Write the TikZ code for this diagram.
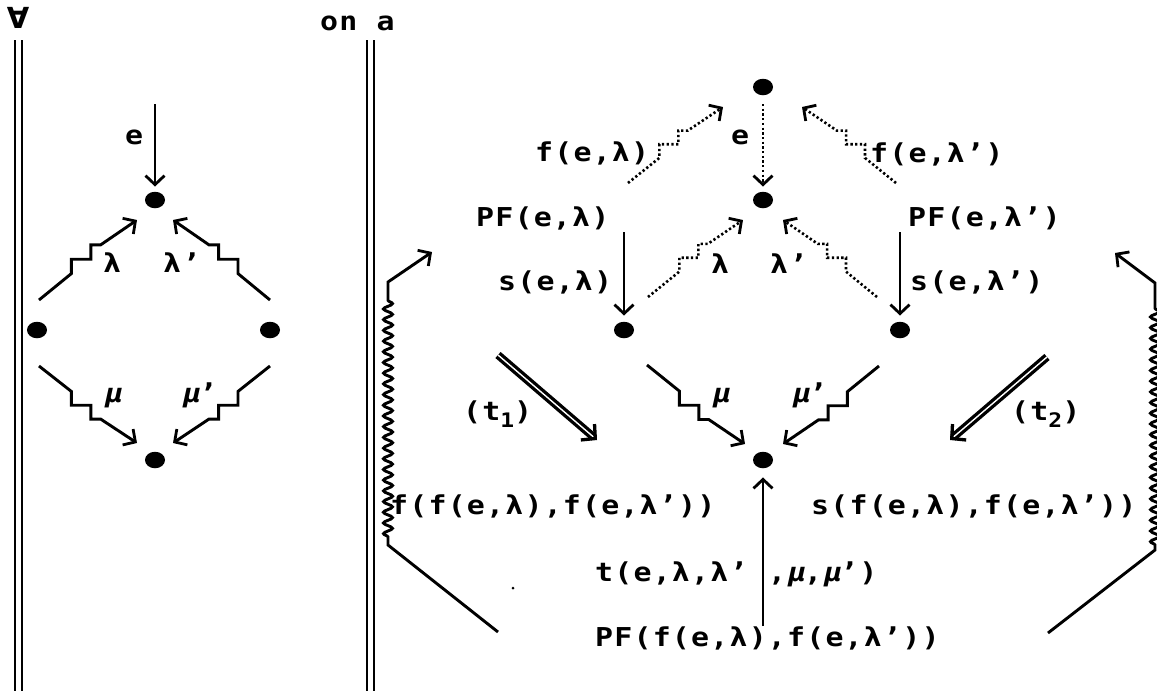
\documentclass[tikz,border=0pt]{standalone}
\usepackage{fontspec}
\usetikzlibrary{arrows.meta,calc,decorations.pathmorphing,shapes.geometric}
\newfontfamily\lblfont[LetterSpace=4.6,FakeStretch=1.15]{DejaVu Sans Mono}
\newfontfamily\slfont[LetterSpace=4.6,FakeStretch=1.15,FakeSlant=0.22]{DejaVu Sans Mono}
\newfontfamily\symfont{DejaVu Sans}
\newcommand\gm{{\slfont μ}}

\tikzset{
  lbl/.style={inner sep=0pt, anchor=base west,
    font=\lblfont\bfseries\fontsize{26}{30}\selectfont},
  blob/.style={ellipse, fill=black, inner sep=0pt,
    minimum width=20pt, minimum height=16.5pt},
  hd/.style={-{Straight Barb[length=9pt,width=19pt,line width=2.8pt]}},
  arr/.style={line width=2.9pt, hd},
  dotline/.style={line width=2.6pt, dash pattern=on 2.3pt off 2.4pt, hd},
  stair/.style={to path={let \p1=(\tikztostart), \p2=(\tikztotarget) in
      -- ($(\p1)!0.33!(\p2)$)
      -- ++(0,{0.18*(\y2-\y1)}) -- ++({0.2*(\x2-\x1)},0)
      -- ++(0,{0.18*(\y2-\y1)}) -- ++({0.1*(\x2-\x1)},0)
      -- (\p2)}},
  dbl/.style={double, double distance=1.4pt, line width=3.3pt,
    -{Straight Barb[length=10pt,width=21pt,line width=3.3pt]}},
  vline/.style={line width=2.4pt},
  wavy/.style={decoration={snake, segment length=10.7pt, amplitude=4.5pt}},
}

\begin{document}
\begin{tikzpicture}[x=1pt,y=-1pt]
\useasboundingbox (0,0) rectangle (1157,691);

% header and the two double rules
\node[inner sep=0pt, font=\symfont\bfseries\fontsize{29}{30}\selectfont] (forall) at (18,18) {∀};
\node[lbl] (ona) at (320,30) {on a};
\draw[vline] (15,40) -- (15,691);
\draw[vline] (22,40) -- (22,691);
\draw[vline] (367,40) -- (367,691);
\draw[vline] (374,40) -- (374,691);

% ---------- left square ----------
\node[blob] (L1) at (155,200) {};
\node[blob] (L2) at (37,330) {};
\node[blob] (L3) at (270,330) {};
\node[blob] (L4) at (155,460) {};

\coordinate (Le) at (155,104);
\draw[arr, shorten >=5pt] (Le) -- (L1);
\node[lbl] (Llab-e) at (125,144) {e};

\coordinate (La1) at (39,300);  \coordinate (La2) at (137,220);
\coordinate (Lb1) at (270,300); \coordinate (Lb2) at (173,220);
\coordinate (Lc1) at (39,366);  \coordinate (Lc2) at (137,443);
\coordinate (Ld1) at (270,366); \coordinate (Ld2) at (173,443);
\draw[arr] (La1) to[stair] (La2);
\draw[arr] (Lb1) to[stair] (Lb2);
\draw[arr] (Lc1) to[stair] (Lc2);
\draw[arr] (Ld1) to[stair] (Ld2);
\node[lbl] (Llab-l)  at (103,272) {λ};
\node[lbl] (Llab-lp) at (163,272) {λ’};
\node[lbl] (Llab-m)  at (103,402) {\gm};
\node[lbl] (Llab-mp) at (181,402) {\gm’};

% ---------- right diagram ----------
\node[blob] (R0) at (763,87) {};
\node[blob] (R1) at (763,200) {};
\node[blob] (R2) at (624,330) {};
\node[blob] (R3) at (900,330) {};
\node[blob] (R4) at (763,460) {};

% dotted upper part
\coordinate (Re) at (763,104);
\draw[dotline, shorten >=5pt] (Re) -- (R1);
\node[lbl] (Rlab-e) at (731,144) {e};

\coordinate (Rf1) at (628,183); \coordinate (Rf2) at (723,107);
\coordinate (Rg1) at (896,183); \coordinate (Rg2) at (802,107);
\draw[dotline] (Rf1) to[stair] (Rf2);
\draw[dotline] (Rg1) to[stair] (Rg2);
\node[lbl] (Rlab-f)  at (535,161) {f(e,λ)};
\node[lbl] (Rlab-fp) at (870,162) {f(e,λ’)};

\coordinate (Rl1) at (648,297); \coordinate (Rl2) at (743,220);
\coordinate (Rk1) at (877,297); \coordinate (Rk2) at (783,220);
\draw[dotline] (Rl1) to[stair] (Rl2);
\draw[dotline] (Rk1) to[stair] (Rk2);
\node[lbl] (Rlab-l)  at (711,273) {λ};
\node[lbl] (Rlab-lp) at (770,273) {λ’};

% PF arrows
\node[lbl] (PFl) at (476,226) {PF(e,λ)};
\node[lbl] (PFr) at (908,226) {PF(e,λ’)};
\coordinate (Rs1) at (624,232);
\coordinate (Rs2) at (900,232);
\draw[arr, shorten >=6pt] (Rs1) -- (R2);
\draw[arr, shorten >=6pt] (Rs2) -- (R3);
\node[lbl] (Rlab-s)  at (498,290) {s(e,λ)};
\node[lbl] (Rlab-sp) at (910,290) {s(e,λ’)};

% lower square
\coordinate (Rm1) at (647,365); \coordinate (Rm2) at (745,444);
\coordinate (Rn1) at (879,366); \coordinate (Rn2) at (783,444);
\draw[arr] (Rm1) to[stair] (Rm2);
\draw[arr] (Rn1) to[stair] (Rn2);
\node[lbl] (Rlab-m)  at (711,402) {\gm};
\node[lbl] (Rlab-mp) at (791,402) {\gm’};

% double arrows
\coordinate (t1s) at (498,355); \coordinate (t1e) at (597,440);
\coordinate (t2s) at (1047,357); \coordinate (t2e) at (950,440);
\draw[dbl] (t1s) -- (t1e);
\draw[dbl] (t2s) -- (t2e);
\node[lbl] (Rlab-t1) at (463,420) {(t\raisebox{-7pt}{\fontsize{20}{20}\selectfont 1})};
\node[lbl] (Rlab-t2) at (1011,420) {(t\raisebox{-7pt}{\fontsize{20}{20}\selectfont 2})};

% bottom labels
\node[lbl] (ff) at (390,514) {f(f(e,λ),f(e,λ’))};
\node[lbl] (sf) at (811,514) {s(f(e,λ),f(e,λ’))};
\node[lbl] (tl) at (595,581) {t(e,λ,λ’};
\node[lbl] (tr) at (768,581) {,\gm,\gm’)};
\node[lbl] (PFff) at (595,646) {PF(f(e,λ),f(e,λ’))};
\coordinate (Rup) at (763,626);
\draw[arr, shorten >=9pt] (Rup) -- (R4);

% long wavy arrows on both sides
\coordinate (W1a) at (498,632); \coordinate (W1b) at (388,545);
\coordinate (W1c) at (388,537); \coordinate (W1d) at (388,298);
\coordinate (W1e) at (388,282); \coordinate (W1f) at (432,252);
\draw[arr] (W1a) -- (W1b) -- (W1c) decorate[wavy]{-- (W1d)} -- (W1e) -- (W1f);

\coordinate (W2a) at (1048,633); \coordinate (W2b) at (1155,550);
\coordinate (W2c) at (1155,545); \coordinate (W2d) at (1155,307);
\coordinate (W2e) at (1155,283); \coordinate (W2f) at (1115,253);
\draw[arr] (W2a) -- (W2b) -- (W2c) decorate[wavy]{-- (W2d)} -- (W2e) -- (W2f);

\fill (513,588) circle (1.5);
\end{tikzpicture}
\end{document}
